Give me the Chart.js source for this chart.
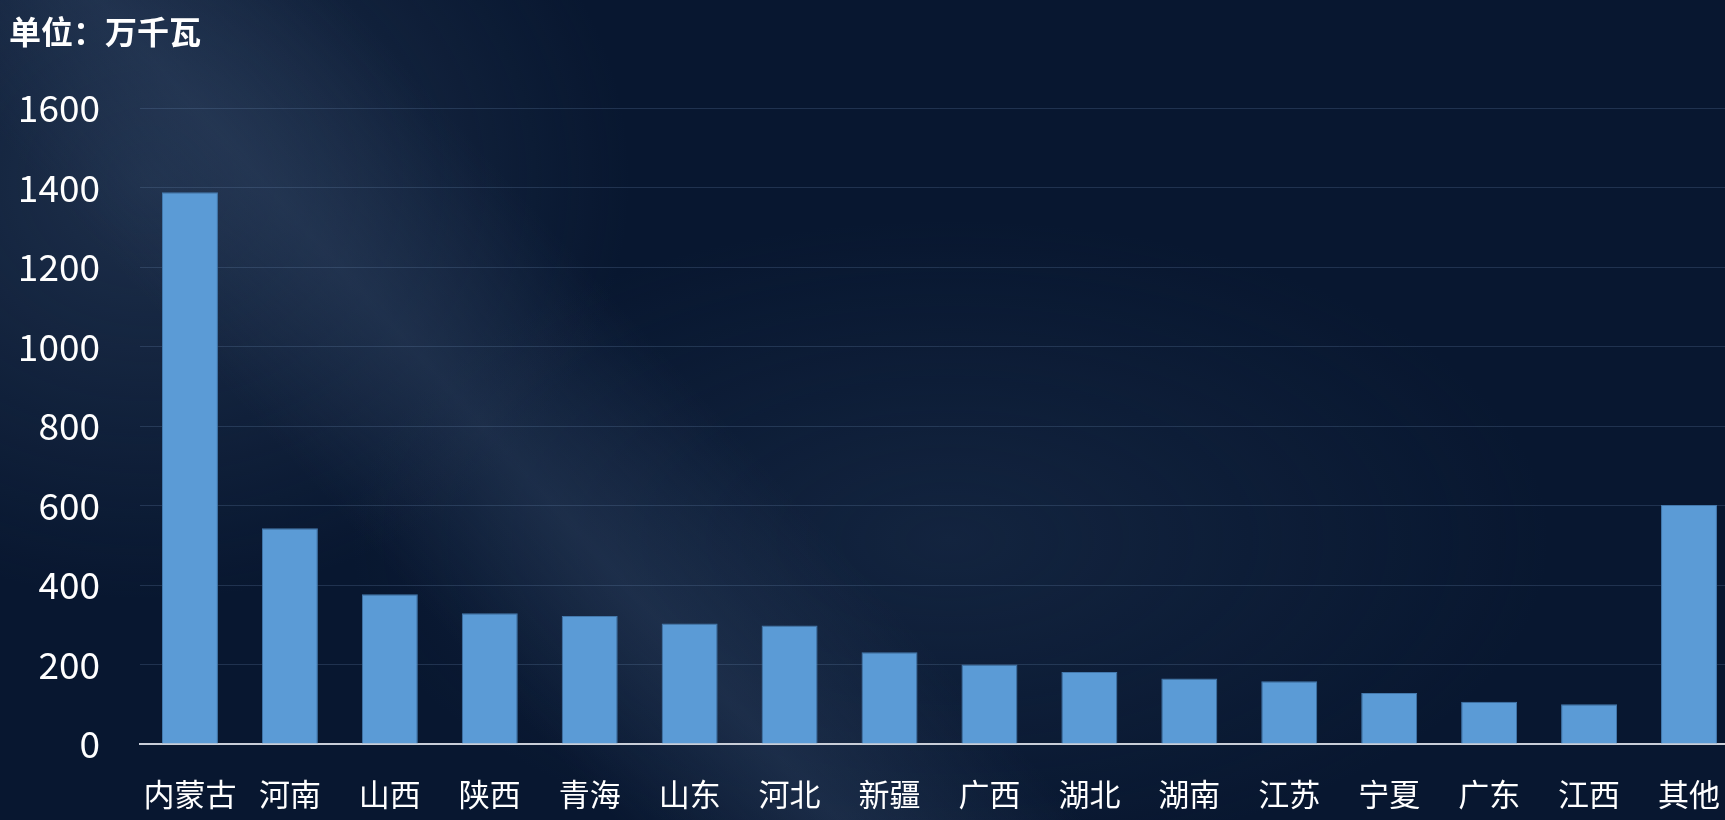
<!DOCTYPE html>
<html>
<head>
<meta charset="utf-8">
<script src="https://cdn.jsdelivr.net/npm/chart.js@4/dist/chart.umd.min.js"></script>
<style>
    html, body {
        margin: 0;
        padding: 0;
        width: 1725px;
        height: 820px;
        overflow: hidden;
    }
    body {
        background:
            linear-gradient(48deg, rgba(0,0,0,0) 25%, rgba(48,68,98,0.45) 34%, rgba(0,0,0,0) 44%),
            radial-gradient(ellipse 480px 420px at 150px 180px, rgba(50,70,100,0.5), rgba(0,0,0,0)),
            radial-gradient(ellipse 600px 320px at 950px 540px, rgba(35,55,85,0.4), rgba(0,0,0,0)),
            #081730;
    }
    #capChart {
        position: absolute;
        left: 0;
        top: 0;
    }
</style>
</head>
<body>
<canvas id="capChart" width="1744" height="820"></canvas>
<script>
    let provinces = ["内蒙古", "河南", "山西", "陕西", "青海", "山东", "河北", "新疆",
                     "广西", "湖北", "湖南", "江苏", "宁夏", "广东", "江西", "其他"];
    let capacity = [1388, 543, 377, 329, 322, 303, 298, 231,
                    200, 181, 165, 158, 128, 106, 100, 601];
    let yTicks = [0, 200, 400, 600, 800, 1000, 1200, 1400, 1600];
    let unitText = "单位：万千瓦";

    // draws the unit caption in the top-left corner
    let unitLabel = {
        id: "unitLabel",
        afterDraw(chart) {
            let ctx = chart.ctx;
            ctx.save();
            ctx.fillStyle = "#ffffff";
            ctx.font = "bold 32px 'Noto Sans CJK SC'";
            ctx.textBaseline = "alphabetic";
            ctx.textAlign = "left";
            ctx.fillText(unitText, 9, 44);
            ctx.restore();
        }
    };

    new Chart(document.getElementById("capChart"), {
        type: "bar",
        data: {
            labels: provinces,
            datasets: [{
                data: capacity,
                backgroundColor: "#5b9bd6",
                borderColor: "#4479ad",
                borderWidth: 1,
                barPercentage: 0.56,
                categoryPercentage: 1.0
            }]
        },
        options: {
            responsive: false,
            animation: false,
            layout: { padding: { top: 108, left: 0, right: 0, bottom: 0 } },
            plugins: {
                legend: { display: false },
                tooltip: { enabled: false }
            },
            scales: {
                x: {
                    grid: { display: false },
                    border: { color: "#c9ced8", width: 2 },
                    ticks: {
                        color: "#ffffff",
                        padding: 24,
                        maxRotation: 0,
                        autoSkip: false,
                        font: { family: "'Noto Sans CJK SC'", size: 31 }
                    },
                    afterFit: function (scale) { scale.height = 76; }
                },
                y: {
                    min: 0,
                    max: 1600,
                    afterBuildTicks: function (scale) {
                        scale.ticks = yTicks.map(v => ({ value: v }));
                    },
                    grid: {
                        color: "rgba(120,150,190,0.22)",
                        lineWidth: 1,
                        drawTicks: false
                    },
                    border: { display: false },
                    ticks: {
                        color: "#ffffff",
                        padding: 40,
                        font: { family: "'Noto Sans CJK SC'", size: 37 },
                        callback: function (value) { return String(value); }
                    },
                    afterFit: function (scale) { scale.width = 140; }
                }
            }
        },
        plugins: [unitLabel]
    });
</script>
</body>
</html>
